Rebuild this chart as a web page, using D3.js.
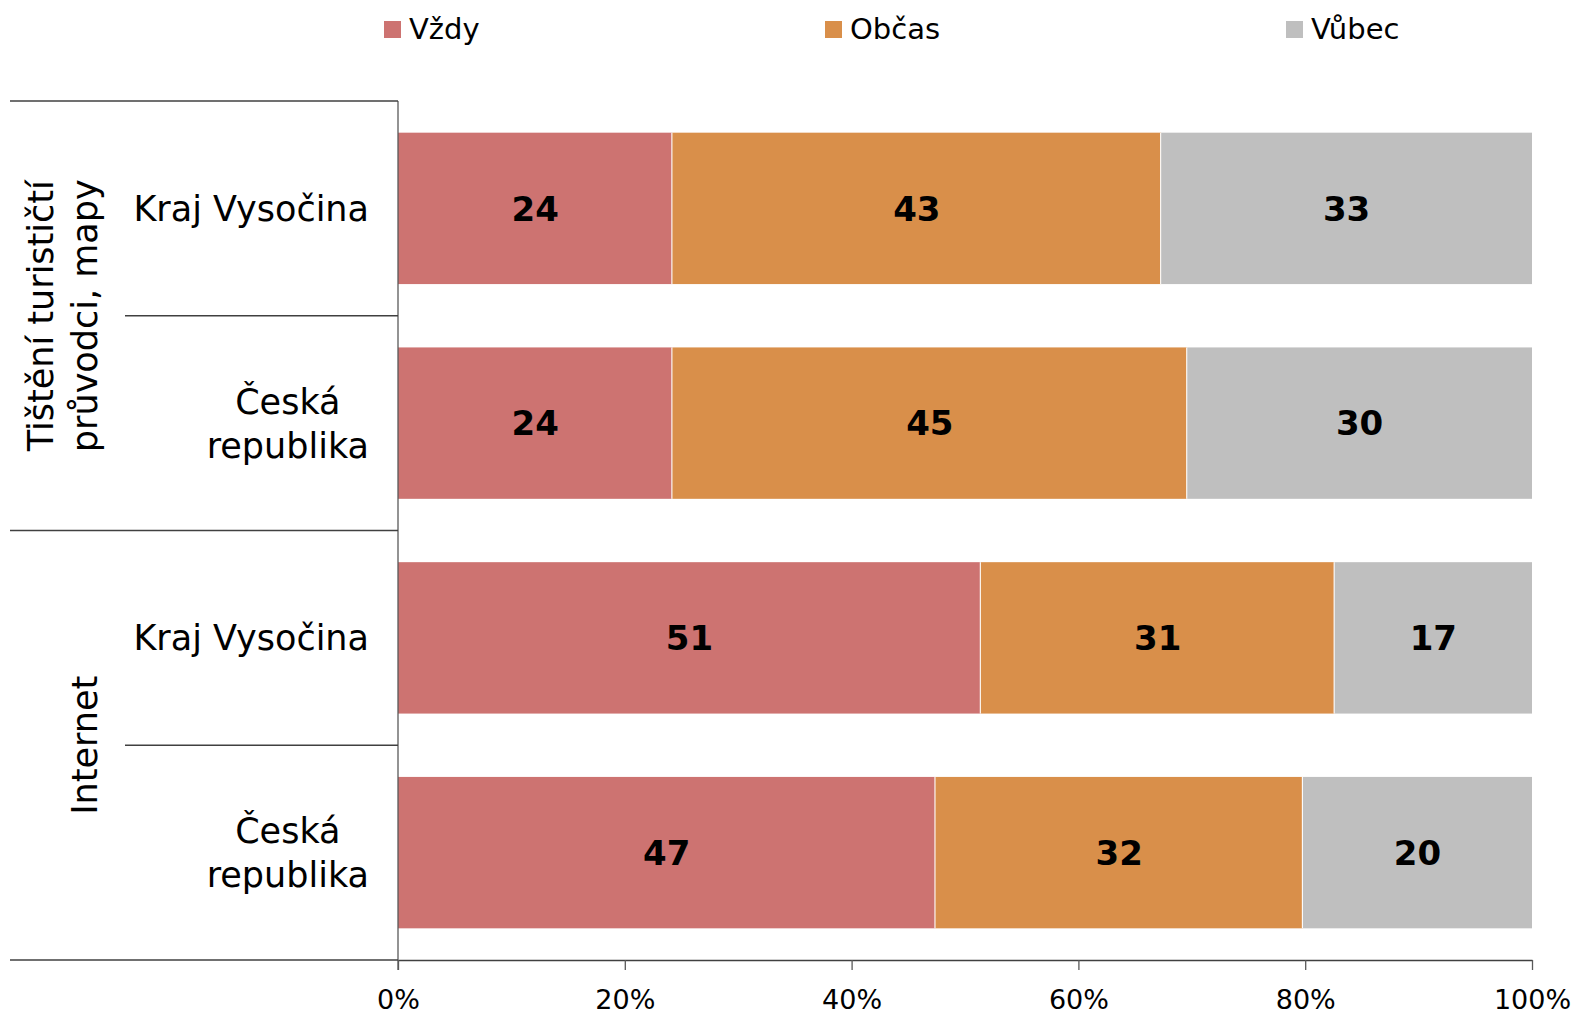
<!DOCTYPE html>
<html>
<head>
<meta charset="utf-8">
<script src="https://cdn.jsdelivr.net/npm/d3@7"></script>
<style>
  body { margin: 0; background: #fff; }
  text { font-family: "DejaVu Sans", Verdana, sans-serif; fill: #000; }
</style>
</head>
<body>
<div id="chart"></div>
<script>
// data
const series = ['Vždy', 'Občas', 'Vůbec'];
const groups = [['Tištění turističtí', 'průvodci, mapy'], ['Internet']];
const regions = [['Kraj Vysočina'], ['Česká', 'republika']];
const rows = ['g1-kraj', 'g1-cr', 'g2-kraj', 'g2-cr'];
const vzdy = [24.2, 24.2, 51.4, 47.4];
const obcas = [43.1, 45.4, 31.2, 32.4];
const vubec = [32.7, 30.4, 17.4, 20.2];
const ticks = [0, 0.2, 0.4, 0.6, 0.8, 1];

const colors = ['#cd7371', '#d98f4a', '#bfbfbf'];

const W = 1574, H = 1014;
const plotLeft = 398, plotRight = 1532, plotTop = 101, plotBottom = 960;

const table = rows.map((r, i) => ({ row: r, 'Vždy': vzdy[i], 'Občas': obcas[i], 'Vůbec': vubec[i] }));

const svg = d3.select('#chart').append('svg')
  .attr('width', W).attr('height', H);

const x = d3.scaleLinear().domain([0, 1]).range([plotLeft, plotRight]);
const y = d3.scaleBand().domain(rows).range([plotTop, plotBottom])
  .paddingInner(0.295).paddingOuter(0.1475);

const stacked = d3.stack().keys(series).offset(d3.stackOffsetExpand)(table);

// bars
const layer = svg.selectAll('g.layer')
  .data(stacked)
  .enter().append('g')
  .attr('class', 'layer')
  .attr('fill', (d, i) => colors[i]);

layer.selectAll('rect')
  .data(d => d)
  .enter().append('rect')
  .attr('x', d => x(d[0]))
  .attr('y', d => y(d.data.row))
  .attr('width', d => x(d[1]) - x(d[0]))
  .attr('height', y.bandwidth());

// white gaps between segments
layer.filter((d, i) => i < series.length - 1)
  .selectAll('line')
  .data(d => d)
  .enter().append('line')
  .attr('x1', d => x(d[1])).attr('x2', d => x(d[1]))
  .attr('y1', d => y(d.data.row)).attr('y2', d => y(d.data.row) + y.bandwidth())
  .attr('stroke', '#fff')
  .attr('stroke-width', 2.2);

// value labels
layer.selectAll('text')
  .data((d) => d.map(v => ({ v, key: d.key })))
  .enter().append('text')
  .attr('x', d => (x(d.v[0]) + x(d.v[1])) / 2)
  .attr('y', d => y(d.v.data.row) + y.bandwidth() / 2)
  .attr('dy', '0.36em')
  .attr('text-anchor', 'middle')
  .style('font-size', '34px')
  .style('font-weight', 'bold')
  .text(d => d3.format('.0f')(d.v.data[d.key]));

// x axis
const xAxis = svg.append('g')
  .attr('transform', `translate(0, ${plotBottom})`)
  .call(d3.axisBottom(x).tickValues(ticks).tickFormat(d3.format('.0%'))
    .tickSize(10).tickSizeOuter(0).tickPadding(20));
xAxis.select('.domain').attr('stroke', '#404040').attr('stroke-width', 1.3);
xAxis.selectAll('.tick line').attr('stroke', '#595959').attr('stroke-width', 1.3);
xAxis.selectAll('.tick text')
  .style('font-size', '27px')
  .style('font-family', '"DejaVu Sans", Verdana, sans-serif')
  .attr('fill', '#000');

// category axis: vertical line, separators
const step = y.step();
const edges = d3.range(rows.length + 1).map(i => plotTop + i * step);
svg.append('line')
  .attr('x1', plotLeft).attr('x2', plotLeft)
  .attr('y1', plotTop).attr('y2', plotBottom + 10)
  .attr('stroke', '#595959').attr('stroke-width', 1.3);

svg.selectAll('line.sep')
  .data(edges)
  .enter().append('line')
  .attr('class', 'sep')
  .attr('x1', (d, i) => i % 2 === 0 ? 10 : 125)
  .attr('x2', plotLeft)
  .attr('y1', d => d).attr('y2', d => d)
  .attr('stroke', '#404040').attr('stroke-width', 1.3);

// region labels
rows.forEach((r, i) => {
  const lines = regions[i % 2];
  const cy = y(r) + y.bandwidth() / 2;
  const t = svg.append('text')
    .attr('text-anchor', 'middle')
    .style('font-size', '35px');
  lines.forEach((l, j) => {
    t.append('tspan')
      .attr('x', 0)
      .attr('y', cy + 12.5 - (lines.length - 1) * 22 + j * 44)
      .text(l);
  });
  const w = t.node().getBBox().width;
  t.attr('transform', `translate(${369 - w / 2}, 0)`);
});

// group labels
groups.forEach((lines, g) => {
  const cy = (edges[g * 2] + edges[g * 2 + 2]) / 2;
  const t = svg.append('text')
    .attr('transform', `translate(97, ${cy}) rotate(-90)`)
    .attr('text-anchor', 'middle')
    .style('font-size', '35px');
  lines.forEach((l, j) => {
    t.append('tspan')
      .attr('x', 0)
      .attr('y', -(lines.length - 1 - j) * 44)
      .text(l);
  });
});

// legend
const legendX = [384, 825, 1286];
const legend = svg.selectAll('g.legend')
  .data(series)
  .enter().append('g')
  .attr('class', 'legend')
  .attr('transform', (d, i) => `translate(${legendX[i]}, 21)`);
legend.append('rect')
  .attr('width', 17).attr('height', 17)
  .attr('fill', (d, i) => colors[i]);
legend.append('text')
  .attr('x', 25).attr('y', 18)
  .style('font-size', '29px')
  .text(d => d);
</script>
</body>
</html>
